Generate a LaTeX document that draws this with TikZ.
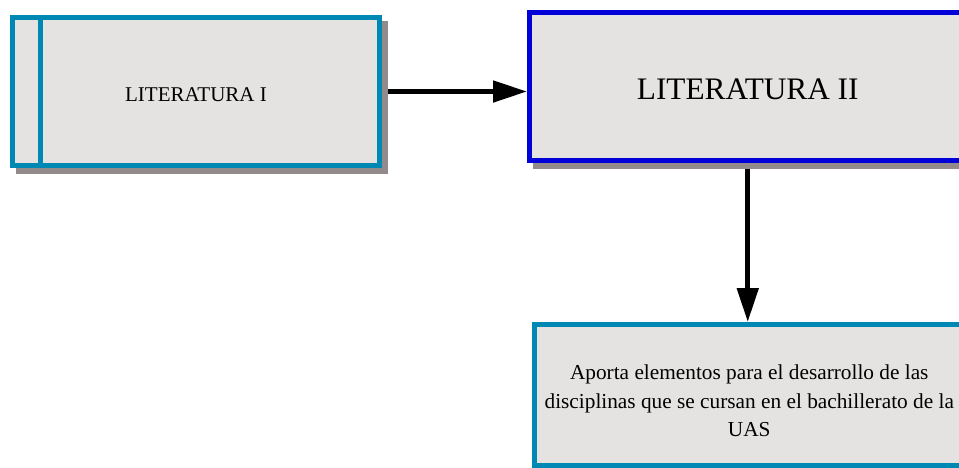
\documentclass[tikz,border=0pt]{standalone}
\usepackage{fontspec}
\setmainfont{Liberation Serif}
\usetikzlibrary{arrows.meta}
\definecolor{tealb}{HTML}{0088B4}
\definecolor{blueb}{HTML}{0000D8}
\definecolor{boxfill}{HTML}{E4E3E2}
\definecolor{shadowc}{HTML}{938B8B}
\tikzset{
  box/.style={rectangle, fill=boxfill, line width=5pt, outer sep=0pt, inner sep=0pt, align=center},
  conn/.style={line width=5pt, -{Triangle[length=34pt,width=21pt]}, shorten >=2.5pt}
}
\begin{document}
\begin{tikzpicture}[x=1pt,y=-1pt]
\useasboundingbox (0,0) rectangle (959,467);
\clip (0,0) rectangle (959,467);
% shadows
\fill[shadowc] (16,21) rectangle (388,174);
\fill[shadowc] (533,16) rectangle (975,169);
\fill[shadowc] (538,328) rectangle (975,480);
% boxes
\node[box, draw=tealb, minimum width=367pt, minimum height=148pt, text height=20pt, text depth=0pt, font=\fontsize{21}{24}\selectfont] (b1) at (196,91.5) {LITERATURA I};
\draw[tealb, line width=5pt] (40.5,17.5) -- (40.5,165.5);
\node[box, draw=blueb, minimum width=436.5pt, minimum height=148pt, text height=25pt, text depth=0pt, font=\fontsize{31.3}{34}\selectfont] (b2) at (747.75,86.5) {LITERATURA II};
\node[box, draw=tealb, minimum width=429.5pt, minimum height=140.5pt, font=\fontsize{21.3}{28.5}\selectfont] (b3) at (749.25,394.75) {\rule{0pt}{27pt}Aporta elementos para el desarrollo de las\\disciplinas que se cursan en el bachillerato de la\\UAS};
% connectors
\draw[conn] ([xshift=8.5pt]b1.east) -- (b1.east -| b2.west);
\draw[conn] ([yshift=-8.5pt]b2.south) -- (b2.south |- b3.north);
\end{tikzpicture}
\end{document}
